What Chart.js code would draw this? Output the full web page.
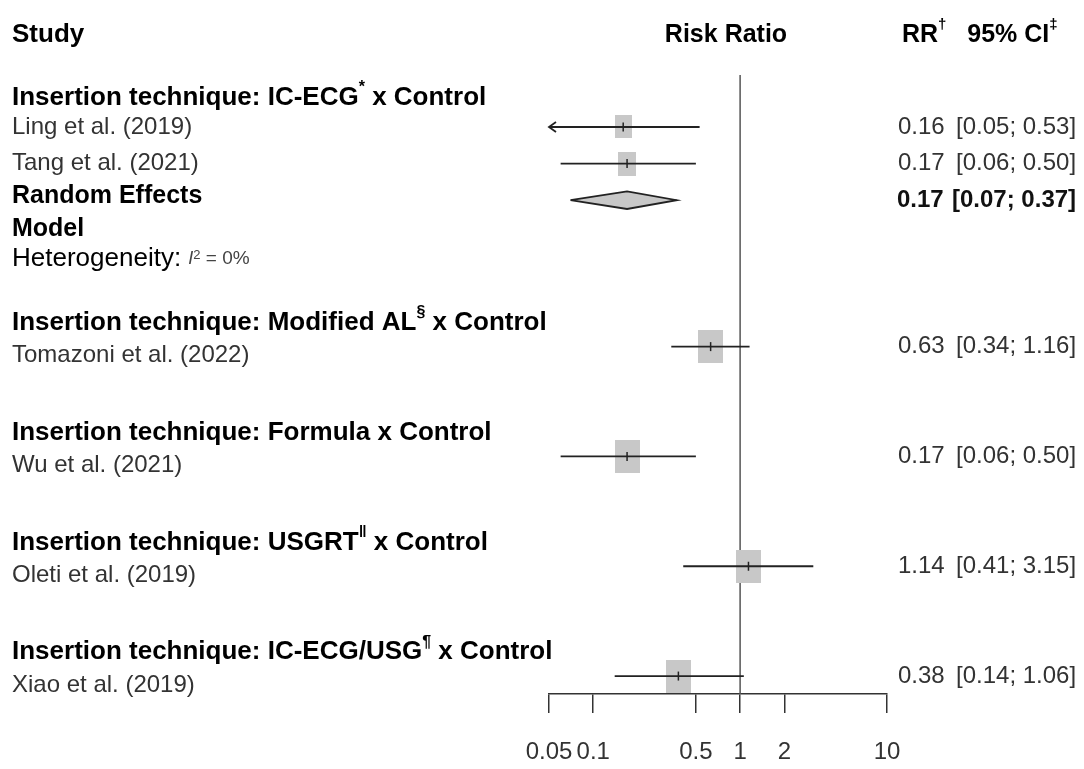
<!DOCTYPE html>
<html>
<head>
<meta charset="utf-8">
<script src="https://cdn.jsdelivr.net/npm/chart.js@4.4.1/dist/chart.umd.min.js"></script>
<style>
  body { margin: 0; background: #fff; }
  #wrap { width: 1084px; height: 769px; }
</style>
</head>
<body>
<div id="wrap"><canvas id="forest" width="1084" height="769"></canvas></div>
<script>
// data
const groupNames = ["IC-ECG", "Modified AL", "Formula", "USGRT", "IC-ECG/USG"];
const groupMarks = ["*", "§", "", "‖", "¶"];
const studies = ["Ling et al. (2019)", "Tang et al. (2021)", "Tomazoni et al. (2022)",
                 "Wu et al. (2021)", "Oleti et al. (2019)", "Xiao et al. (2019)"];
const studyGroup = [0, 0, 1, 2, 3, 4];
const rr    = [0.16, 0.17, 0.63, 0.17, 1.14, 0.38];
const lower = [0.05, 0.06, 0.34, 0.06, 0.41, 0.14];
const upper = [0.53, 0.50, 1.16, 0.50, 3.15, 1.06];
const weights = [48, 52, 100, 100, 100, 100]; // % weight inside subgroup
const pooledGroup = [0];
const pooledRR = [0.17];
const pooledLower = [0.07];
const pooledUpper = [0.37];
const pooledI2 = ["0%"];
const xTicks = [0.05, 0.1, 0.5, 1, 2, 10];

const FAM = '"Liberation Sans", Arial, Helvetica, sans-serif';
const B = s => "bold " + s + "px " + FAM;
const R = s => s + "px " + FAM;

// row layout (in line slots)
const headerSlot = [], studySlot = [], pooledSlot = [];
let cur = 1;
groupNames.forEach((g, gi) => {
  headerSlot.push(cur - (gi === 0 ? 0.8 : 0.65));
  studyGroup.forEach((sg, si) => { if (sg === gi) { studySlot[si] = cur; cur++; } });
  if (pooledGroup.indexOf(gi) >= 0) { pooledSlot.push(cur); cur += 2; }
  cur += 2;
});
const groupSize = groupNames.map((g, gi) => studyGroup.filter(s => s === gi).length);

// grey boxes, sized by weight
const boxes = weights.map(w => {
  const c = document.createElement("canvas");
  const bw = Math.round(24.5 * Math.sqrt(w / 100));
  c.width = bw; c.height = Math.round(bw * 1.33);
  const g = c.getContext("2d");
  g.fillStyle = "#c8c8c8";
  g.fillRect(0, 0, c.width, c.height);
  return c;
});

const datasets = [];
datasets.push({
  type: "scatter", order: 3,
  data: studies.map((s, i) => ({ x: rr[i], y: studySlot[i] })),
  pointStyle: ctx => boxes[ctx.dataIndex], pointRadius: 10, clip: false
});
studies.forEach((s, i) => {
  datasets.push({
    type: "line", order: 2, showLine: true, pointRadius: 0,
    borderColor: "#222", borderWidth: 1.8,
    data: [{ x: lower[i], y: studySlot[i] }, { x: upper[i], y: studySlot[i] }]
  });
});
datasets.push({
  type: "scatter", order: 1,
  data: studies.map((s, i) => ({ x: rr[i], y: studySlot[i] })),
  pointStyle: "line", rotation: 90, pointRadius: 4.5,
  borderColor: "#222", borderWidth: 1.5, clip: false
});
pooledRR.forEach((p, i) => {
  const s = pooledSlot[i], h = 0.24;
  datasets.push({
    type: "line", order: 2, showLine: true, pointRadius: 0, tension: 0,
    borderColor: "#222", borderWidth: 1.8, backgroundColor: "#c8c8c8", fill: "shape",
    data: [{ x: pooledLower[i], y: s }, { x: p, y: s - h }, { x: pooledUpper[i], y: s },
           { x: p, y: s + h }, { x: pooledLower[i], y: s }]
  });
});

function rich(ctx, x, y, parts, align) {
  let w = 0;
  parts.forEach(p => { ctx.font = p.f; w += ctx.measureText(p.t).width; });
  let cx = align === "center" ? x - w / 2 : (align === "right" ? x - w : x);
  parts.forEach(p => {
    ctx.font = p.f;
    ctx.fillStyle = p.c || "#000";
    ctx.fillText(p.t, cx, y + (p.dy || 0));
    cx += ctx.measureText(p.t).width;
  });
}

const forestText = {
  id: "forestText",
  beforeDatasetsDraw(chart) {
    const { ctx, chartArea, scales } = chart;
    const x1 = scales.x.getPixelForValue(1);
    ctx.save();
    ctx.strokeStyle = "#555";
    ctx.lineWidth = 1.5;
    ctx.beginPath();
    ctx.moveTo(x1, chartArea.top);
    ctx.lineTo(x1, chartArea.bottom);
    ctx.stroke();
    ctx.restore();
  },
  afterDraw(chart) {
    const { ctx, scales } = chart;
    const y = v => scales.y.getPixelForValue(v);
    ctx.save();
    ctx.textBaseline = "middle";

    // arrows where the CI runs past the axis
    ctx.strokeStyle = "#222"; ctx.lineWidth = 1.8;
    studies.forEach((s, i) => {
      if (lower[i] <= scales.x.min) {
        const ax = scales.x.getPixelForValue(scales.x.min), ay = y(studySlot[i]);
        ctx.beginPath();
        ctx.moveTo(ax + 7, ay - 5); ctx.lineTo(ax, ay); ctx.lineTo(ax + 7, ay + 5);
        ctx.stroke();
      }
    });

    // column headers
    rich(ctx, 12, 35, [{ t: "Study", f: B(26) }]);
    rich(ctx, 726, 35, [{ t: "Risk Ratio", f: B(25) }], "center");
    rich(ctx, 902, 35, [{ t: "RR", f: B(25) }, { t: "†", f: B(15), dy: -10 },
                        { t: "   95% CI", f: B(25) }, { t: "‡", f: B(15), dy: -10 }]);

    // group headers
    groupNames.forEach((g, gi) => {
      const parts = [{ t: "Insertion technique: " + g, f: B(26) }];
      if (groupMarks[gi]) parts.push({ t: groupMarks[gi], f: B(16), dy: -10 });
      parts.push({ t: " x Control", f: B(26) });
      rich(ctx, 12, y(headerSlot[gi]), parts);
    });

    // studies and their values
    studies.forEach((s, i) => {
      const shift = groupSize[studyGroup[i]] === 1 ? 0.25 : 0;
      rich(ctx, 12, y(studySlot[i] + shift), [{ t: s, f: R(24), c: "#333" }]);
      rich(ctx, 898, y(studySlot[i]), [{ t: rr[i].toFixed(2), f: R(24), c: "#333" }]);
      rich(ctx, 956, y(studySlot[i]),
           [{ t: "[" + lower[i].toFixed(2) + "; " + upper[i].toFixed(2) + "]", f: R(24), c: "#333" }]);
    });

    // pooled rows
    pooledRR.forEach((p, i) => {
      const s = pooledSlot[i];
      rich(ctx, 12, y(s - 0.1), [{ t: "Random Effects", f: B(25) }]);
      rich(ctx, 12, y(s + 0.8), [{ t: "Model", f: B(25) }]);
      rich(ctx, 12, y(s + 1.6), [{ t: "Heterogeneity: ", f: R(26) },
                                  { t: "I", f: "italic " + R(18), c: "#444" },
                                  { t: "2", f: R(13), c: "#444", dy: -3 },
                                  { t: " = " + pooledI2[i], f: R(19), c: "#444" }]);
      rich(ctx, 897, y(s), [{ t: p.toFixed(2), f: B(24), c: "#111" }]);
      rich(ctx, 952, y(s), [{ t: "[" + pooledLower[i].toFixed(2) + "; " + pooledUpper[i].toFixed(2) + "]",
                              f: B(24), c: "#111" }]);
    });
    ctx.restore();
  }
};

new Chart("forest", {
  type: "scatter",
  data: { datasets: datasets },
  options: {
    responsive: false,
    animation: false,
    layout: { padding: { left: 549, right: 197, top: 75, bottom: 2 } },
    plugins: { legend: { display: false }, tooltip: { enabled: false } },
    scales: {
      x: {
        type: "logarithmic", min: 0.05, max: 10,
        afterBuildTicks: scale => { scale.ticks = xTicks.map(v => ({ value: v })); },
        afterFit: scale => { scale.height = 73; },
        ticks: {
          autoSkip: false, maxRotation: 0, padding: 25,
          color: "#333", font: { family: FAM, size: 24 },
          callback: v => String(v)
        },
        grid: { drawOnChartArea: false, drawTicks: true, tickLength: 19, color: "#333", lineWidth: 1.5 },
        border: { display: true, color: "#333", width: 1.5 }
      },
      y: { type: "linear", reverse: true, min: -0.42, max: 16.49, display: false }
    }
  },
  plugins: [forestText]
});
</script>
</body>
</html>
